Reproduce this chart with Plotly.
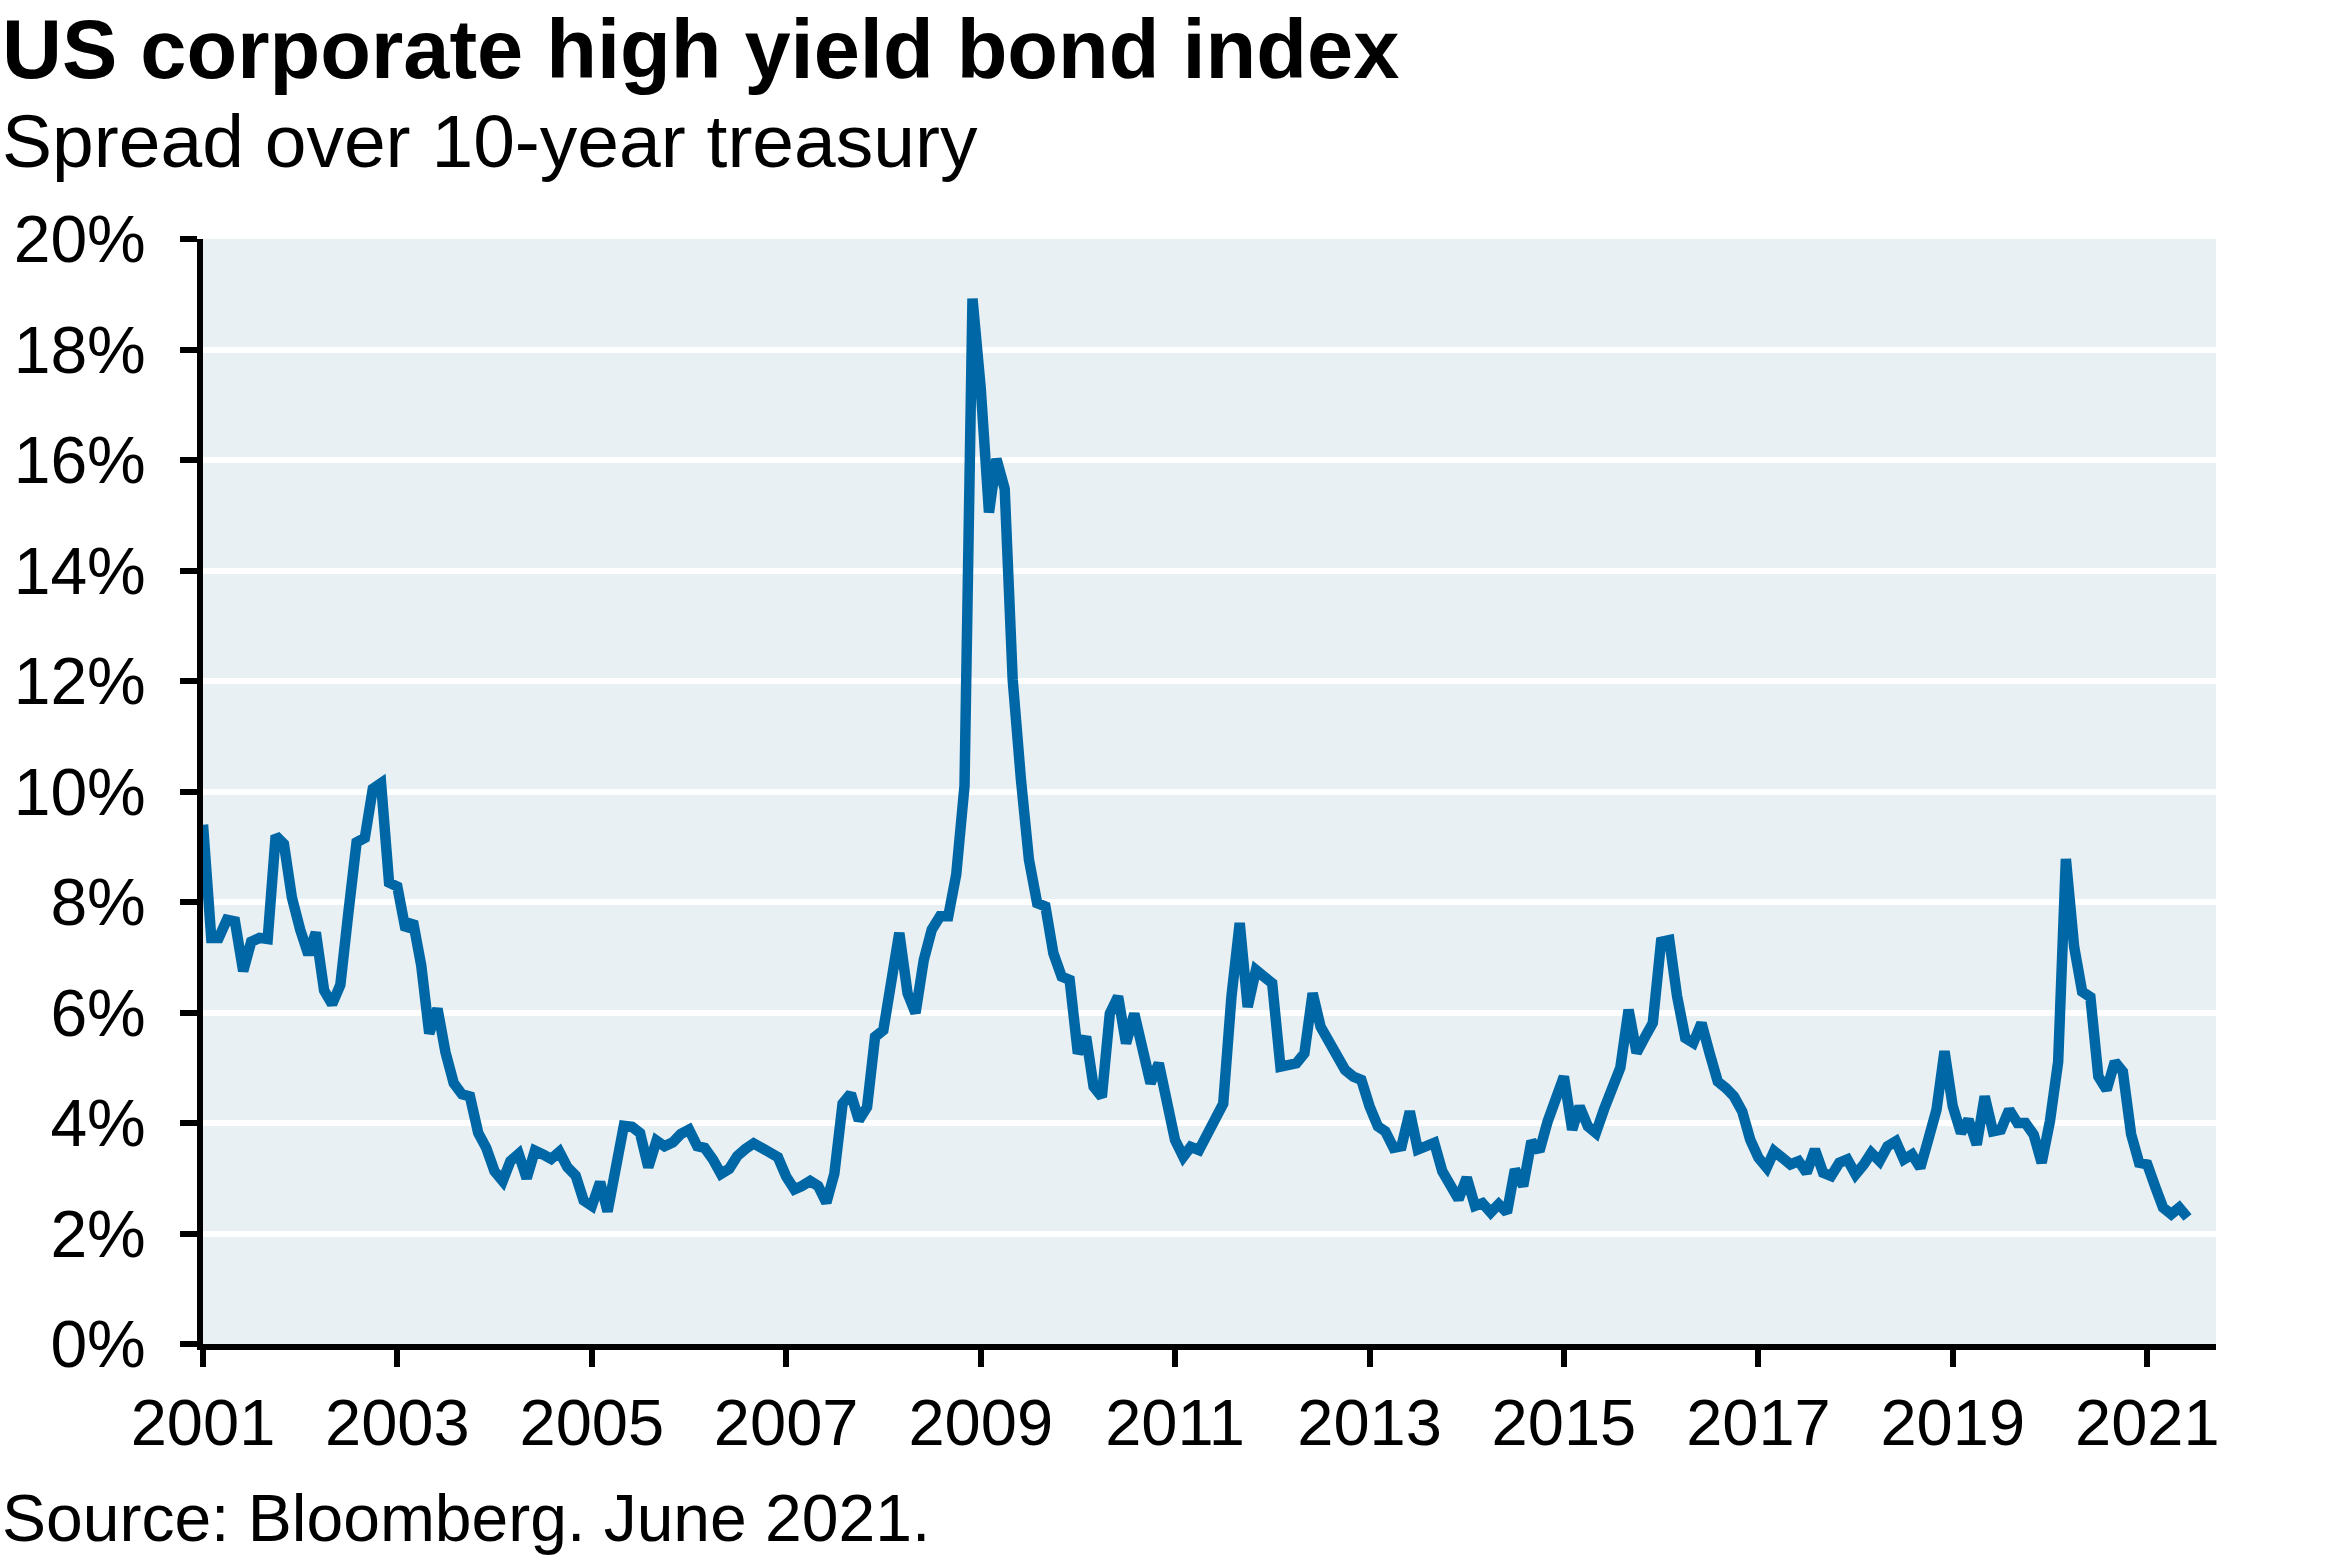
import pandas as pd
import plotly.graph_objects as go

# Monthly spread values (%), Jan 2001 - Jun 2021
spread_2001_2007 = [
    9.40, 7.35, 7.35, 7.68, 7.65, 6.75, 7.28, 7.35, 7.33, 9.20, 9.05, 8.08,   # 2001
    7.50, 7.05, 7.45, 6.40, 6.15, 6.50, 7.80, 9.08, 9.16, 10.05, 10.15, 8.35, # 2002
    8.28, 7.50, 7.65, 6.85, 5.62, 6.07, 5.28, 4.72, 4.52, 4.48, 3.82, 3.55,   # 2003
    3.13, 2.95, 3.31, 3.44, 3.00, 3.50, 3.43, 3.35, 3.48, 3.20, 3.05, 2.60,   # 2004
    2.50, 2.93, 2.40, 3.27, 3.95, 3.93, 3.82, 3.20, 3.68, 3.58, 3.65, 3.80,   # 2005
    3.88, 3.58, 3.55, 3.34, 3.08, 3.17, 3.40, 3.53, 3.63, 3.55, 3.45, 3.38,   # 2006
    3.03, 2.80, 2.86, 2.95, 2.86, 2.56, 3.08, 4.35, 4.53, 4.05, 4.29, 5.56,   # 2007
]
spread_2008_2014 = [
    5.68, 6.47, 7.44, 6.35, 5.99, 6.95, 7.50, 7.74, 7.74, 8.50, 10.10, 18.92, # 2008
    17.30, 15.05, 16.02, 15.48, 12.03, 10.22, 8.77, 7.98, 7.92, 7.07, 6.65, 6.59, # 2009
    5.26, 5.56, 4.66, 4.47, 5.98, 6.29, 5.44, 5.98, 5.30, 4.72, 5.08, 4.29,   # 2010
    3.69, 3.39, 3.57, 3.51, 3.80, 4.11, 4.35, 6.29, 7.62, 6.10, 6.77, 6.65,   # 2011
    6.53, 5.02, 5.05, 5.08, 5.26, 6.35, 5.74, 5.50, 5.26, 4.96, 4.84, 4.78,   # 2012
    4.30, 3.94, 3.85, 3.55, 3.58, 4.21, 3.52, 3.58, 3.64, 3.13, 2.90, 2.62,   # 2013
    3.01, 2.50, 2.55, 2.38, 2.53, 2.38, 3.16, 2.86, 3.67, 3.49, 4.03, 4.45,   # 2014
]
spread_2015_2021 = [
    4.84, 3.88, 4.30, 3.94, 3.82, 4.25, 4.69, 5.00, 6.05, 5.27, 5.55, 5.81,   # 2015
    7.28, 7.31, 6.30, 5.54, 5.45, 5.81, 5.27, 4.75, 4.63, 4.48, 4.21, 3.70,   # 2016
    3.37, 3.19, 3.49, 3.37, 3.25, 3.31, 3.10, 3.52, 3.10, 3.04, 3.28, 3.34,   # 2017
    3.07, 3.25, 3.46, 3.31, 3.58, 3.67, 3.34, 3.43, 3.19, 3.70, 4.24, 5.30,   # 2018
    4.30, 3.82, 4.06, 3.61, 4.48, 3.85, 3.88, 4.24, 4.00, 4.00, 3.79, 3.28,   # 2019
    4.03, 5.11, 8.78, 7.19, 6.38, 6.28, 4.84, 4.60, 5.11, 4.93, 3.80, 3.28,   # 2020
    3.25, 2.83, 2.47, 2.35, 2.47, 2.29,                                       # 2021
]
spread = spread_2001_2007 + spread_2008_2014 + spread_2015_2021
dates = pd.date_range("2001-01-01", periods=len(spread), freq="MS")

year_ticks = ["2001", "2003", "2005", "2007", "2009", "2011",
              "2013", "2015", "2017", "2019", "2021"]
y_ticks = [0, 2, 4, 6, 8, 10, 12, 14, 16, 18, 20]
y_tick_labels = [f"{v}%" for v in y_ticks]

title_text = "<b>US corporate high yield bond index</b>"
subtitle_text = "Spread over 10-year treasury"
source_text = "Source: Bloomberg. June 2021."

FONT = "Liberation Sans, Arial, Helvetica, sans-serif"
LINE_COLOR = "#0067A6"
BG = "#E8F0F3"

W, H = 2341, 1561
L, R, T, B = 203, 125, 239, 217
PW, PH = W - L - R, H - T - B

def px_x(x):
    return (x - L) / PW

def px_y(y):
    return (H - B - y) / PH

fig = go.Figure()
fig.add_trace(go.Scatter(
    x=dates, y=spread, mode="lines",
    line=dict(color=LINE_COLOR, width=10.5),
    hoverinfo="skip", showlegend=False,
))

fig.update_layout(
    template="none",
    width=W, height=H,
    margin=dict(l=L, r=R, t=T, b=B, pad=0, autoexpand=False),
    paper_bgcolor="white", plot_bgcolor=BG,
    font=dict(family=FONT, color="black", size=65),
    showlegend=False,
)

fig.update_xaxes(
    automargin=False,
    range=["2001-01-01", "2021-09-16"],
    tickmode="array",
    tickvals=[f"{y}-01-01" for y in year_ticks],
    ticktext=year_ticks,
    tickfont=dict(family=FONT, size=65, color="black"),
    showgrid=False, zeroline=False,
    showline=True, linecolor="black", linewidth=6,
    ticks="outside", ticklen=17, tickwidth=6, tickcolor="black",
    ticklabelstandoff=0,
)
fig.update_yaxes(
    automargin=False,
    range=[0, 20],
    tickmode="array", tickvals=y_ticks, ticktext=y_tick_labels,
    tickfont=dict(family=FONT, size=66, color="black"),
    showgrid=True, gridcolor="white", gridwidth=6,
    zeroline=False,
    showline=True, linecolor="black", linewidth=6,
    ticks="outside", ticklen=17, tickwidth=6, tickcolor="black",
    ticklabelstandoff=21,
)

fig.add_annotation(text=title_text, xref="paper", yref="paper",
                   x=px_x(0), y=px_y(50), xanchor="left", yanchor="middle",
                   showarrow=False, font=dict(family=FONT, size=83, color="black"))
fig.add_annotation(text=subtitle_text, xref="paper", yref="paper",
                   x=px_x(0), y=px_y(141), xanchor="left", yanchor="middle",
                   showarrow=False, font=dict(family=FONT, size=75, color="black"))
fig.add_annotation(text=source_text, xref="paper", yref="paper",
                   x=px_x(0), y=px_y(1518), xanchor="left", yanchor="middle",
                   showarrow=False, font=dict(family=FONT, size=66, color="black"))

fig.write_html("out.html", config={"displayModeBar": False},
               post_script="document.body.style.margin='0';")
